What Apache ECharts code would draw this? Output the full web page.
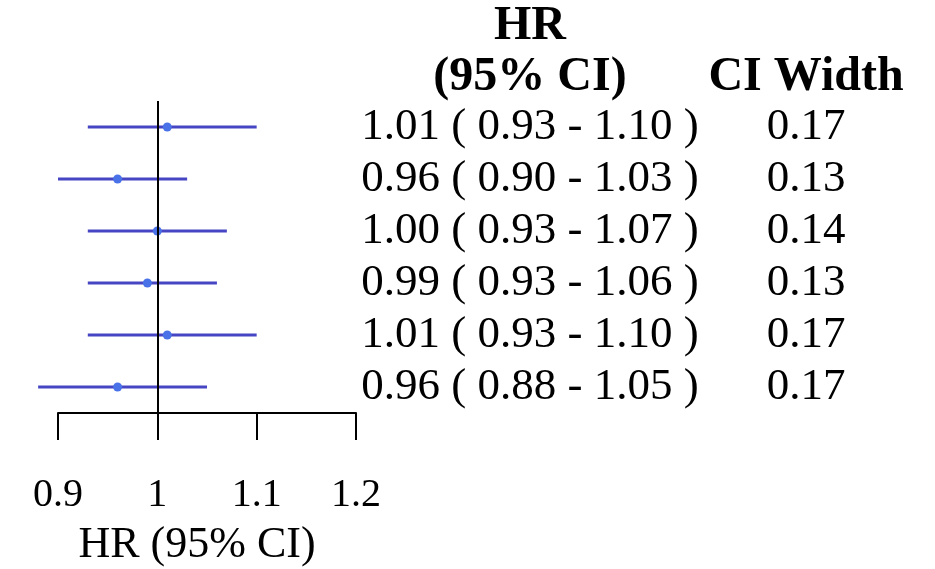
<!DOCTYPE html>
<html><head><meta charset="utf-8">
<script src="https://cdn.jsdelivr.net/npm/echarts@6/dist/echarts.min.js"></script>
<style>html,body{margin:0;padding:0;background:#fff}#c{width:935px;height:569px}</style>
</head><body><div id="c"></div>
<script>
var hr    = [1.01, 0.96, 1.00, 0.99, 1.01, 0.96];
var lower = [0.93, 0.90, 0.93, 0.93, 0.93, 0.88];
var upper = [1.10, 1.03, 1.07, 1.06, 1.10, 1.05];
var ciWidth = ['0.17', '0.13', '0.14', '0.13', '0.17', '0.17'];
var xTicks = [0.9, 1.0, 1.1, 1.2];

var F = '"Liberation Serif", "Times New Roman", serif';
function f2(v){ return v.toFixed(2); }

var rows = hr.map(function(v, i){ return [lower[i], upper[i], v, i]; });
var textRows = hr.map(function(v, i){
  return [v, i, f2(v) + ' ( ' + f2(lower[i]) + ' - ' + f2(upper[i]) + ' )', ciWidth[i]];
});

var chart = echarts.init(document.getElementById('c'));
chart.setOption({
  animation: false,
  backgroundColor: '#fff',
  grid: { left: 58, top: 101, width: 298, height: 312 },
  xAxis: {
    type: 'value', min: xTicks[0], max: xTicks[xTicks.length - 1], interval: 0.1,
    axisLine: { show: true, onZero: false, lineStyle: { color: '#000', width: 2 } },
    axisTick: { show: true, length: 27, lineStyle: { color: '#000', width: 2 } },
    splitLine: { show: false },
    axisLabel: { margin: 62, color: '#000', fontFamily: F, fontSize: 40,
      formatter: function(v){ return String(Math.round(v*10)/10); } }
  },
  yAxis: { type: 'value', min: -0.5, max: 5.5, inverse: true, show: false },
  series: [
    {
      type: 'custom',
      renderItem: function(params, api){
        var p1 = api.coord([api.value(0), api.value(3)]);
        var p2 = api.coord([api.value(1), api.value(3)]);
        return { type: 'line', shape: { x1: p1[0], y1: p1[1], x2: p2[0], y2: p2[1] },
          style: { stroke: '#4646c4', lineWidth: 3 } };
      },
      data: rows, clip: false, z: 2,
      markLine: {
        silent: true, symbol: 'none', label: { show: false },
        lineStyle: { color: '#000', width: 2, type: 'solid' },
        data: [{ xAxis: 1 }]
      }
    },
    {
      type: 'scatter', symbolSize: 9, z: 3,
      itemStyle: { color: '#4a72e8', opacity: 1 },
      data: hr.map(function(v, i){ return [v, i]; })
    },
    {
      type: 'custom', clip: false,
      renderItem: function(params, api){
        var y = api.coord([1, api.value(1)])[1];
        var d = textRows[params.dataIndex];
        return { type: 'group', children: [
          { type: 'text', style: { x: 530, y: y, text: d[2], align: 'center', verticalAlign: 'middle',
            fill: '#000', font: '45px ' + F } },
          { type: 'text', style: { x: 806, y: y, text: d[3], align: 'center', verticalAlign: 'middle',
            fill: '#000', font: '45px ' + F } }
        ]};
      },
      data: textRows
    }
  ],
  graphic: [
    { type: 'text', style: { x: 530, y: 27, text: 'HR', align: 'center', verticalAlign: 'middle',
      fill: '#000', font: 'bold 48px ' + F } },
    { type: 'text', style: { x: 530, y: 78, text: '(95% CI)', align: 'center', verticalAlign: 'middle',
      fill: '#000', font: 'bold 48px ' + F } },
    { type: 'text', style: { x: 806, y: 78, text: 'CI Width', align: 'center', verticalAlign: 'middle',
      fill: '#000', font: 'bold 48px ' + F } },
    { type: 'text', style: { x: 197, y: 545, text: 'HR (95% CI)', align: 'center', verticalAlign: 'middle',
      fill: '#000', font: '44px ' + F } }
  ]
});
</script></body></html>
